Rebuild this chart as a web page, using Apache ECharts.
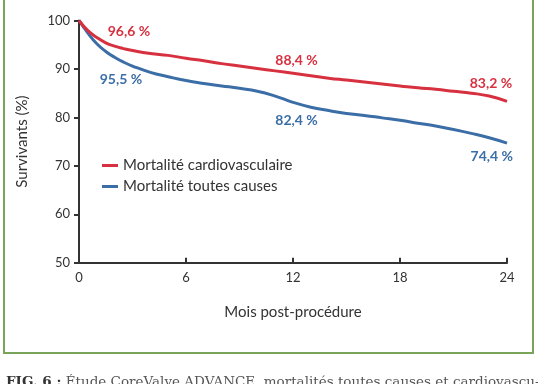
<!DOCTYPE html>
<html><head><meta charset="utf-8">
<script src="https://cdn.jsdelivr.net/npm/echarts@6/dist/echarts.min.js"></script>
<style>html,body{margin:0;padding:0;background:#fff}#c{width:538px;height:384px}</style>
</head><body><div id="c"></div>
<script>
// Data
const months = [0,0.5,1,1.5,2,2.5,3,4,5,6,7,8,9,10,11,12,13,14,15,16,17,18,19,20,21,22,23,24];
const cardioValues = [100,97.9,96.5,95.4,94.7,94.2,93.8,93.2,92.8,92.2,91.7,91.1,90.6,90.1,89.6,89.1,88.6,88.1,87.7,87.3,86.9,86.5,86.1,85.8,85.4,85.0,84.4,83.3];
const allCauseValues = [100,97.4,95.2,93.6,92.4,91.4,90.6,89.3,88.4,87.6,87.0,86.5,86.0,85.4,84.4,83.1,82.1,81.4,80.8,80.4,79.9,79.4,78.8,78.2,77.5,76.7,75.8,74.7];
const seriesNames = ['Mortalité cardiovasculaire','Mortalité toutes causes'];
const xTicks = [0,6,12,18,24];
const yTicks = [50,60,70,80,90,100];
const cardioLabels = [['96,6 %',2.8,97.8],['88,4 %',12.2,91.8],['83,2 %',23.1,87.0]];
const allCauseLabels = [['95,5 %',2.35,87.9],['82,4 %',12.2,79.4],['74,4 %',23.15,72.0]];
const xName = 'Mois post-procédure';
const yName = 'Survivants (%)';
const caption = 'Étude CoreValve ADVANCE, mortalités toutes causes et cardiovascu-';

const RED = '#d7303f', BLUE = '#3b6ea7';
const FONT = 'Lato';
const chart = echarts.init(document.getElementById('c'), null, {renderer:'canvas'});
chart.setOption({
  animation:false,
  textStyle:{fontFamily:FONT},
  grid:{left:79, right:31, top:20.5, bottom:121.3},
  legend:{
    orient:'vertical', left:97, top:153, itemGap:6, itemWidth:16, itemHeight:3, icon:'rect',
    textStyle:{color:'#333', fontSize:15, fontFamily:FONT},
    data:seriesNames
  },
  xAxis:{
    type:'value', min:xTicks[0], max:xTicks[xTicks.length-1], interval:6,
    name:xName, nameLocation:'middle', nameGap:42,
    nameTextStyle:{color:'#333', fontSize:15, fontFamily:FONT},
    axisLine:{lineStyle:{color:'#333', width:2}},
    axisTick:{inside:true, length:5, lineStyle:{color:'#333', width:2}},
    axisLabel:{color:'#333', fontSize:13, margin:9, fontFamily:FONT},
    splitLine:{show:false}
  },
  yAxis:{
    type:'value', min:yTicks[0], max:yTicks[yTicks.length-1], interval:10,
    name:yName, nameLocation:'middle', nameGap:49,
    nameTextStyle:{color:'#333', fontSize:15, fontFamily:FONT},
    axisLine:{show:true, lineStyle:{color:'#333', width:2}},
    axisTick:{show:true, length:5, lineStyle:{color:'#333', width:2}},
    axisLabel:{color:'#333', fontSize:13, margin:9, fontFamily:FONT},
    splitLine:{show:false}
  },
  series:[
    {name:seriesNames[0], type:'line', smooth:true, showSymbol:false, color:RED,
     lineStyle:{width:3, color:RED}, data:months.map((m,i)=>[m,cardioValues[i]]), z:3},
    {name:seriesNames[1], type:'line', smooth:true, showSymbol:false, color:BLUE,
     lineStyle:{width:3, color:BLUE}, data:months.map((m,i)=>[m,allCauseValues[i]]), z:2}
  ]
});
const g = [
  {type:'rect', shape:{x:4, y:-10, width:529, height:363}, style:{fill:'none', stroke:'#79a45a', lineWidth:2}, silent:true},
  {type:'text', left:6, top:375, style:{
    text:'{b|FIG. 6 :} ' + caption,
    rich:{b:{fontWeight:'bold', fontSize:13.5, fontFamily:'DejaVu Serif', fill:'#333'}},
    font:'13.5px "DejaVu Serif"', fill:'#555'}}
];
function addLabels(labels, color){
  labels.forEach(l=>{
    const p = chart.convertToPixel({gridIndex:0}, [l[1], l[2]]);
    g.push({type:'text', x:p[0], y:p[1], style:{text:l[0], fill:color,
      font:'bold 14px ' + FONT, align:'center', verticalAlign:'middle'}});
  });
}
addLabels(cardioLabels, RED);
addLabels(allCauseLabels, BLUE);
chart.setOption({graphic:g});
</script></body></html>
